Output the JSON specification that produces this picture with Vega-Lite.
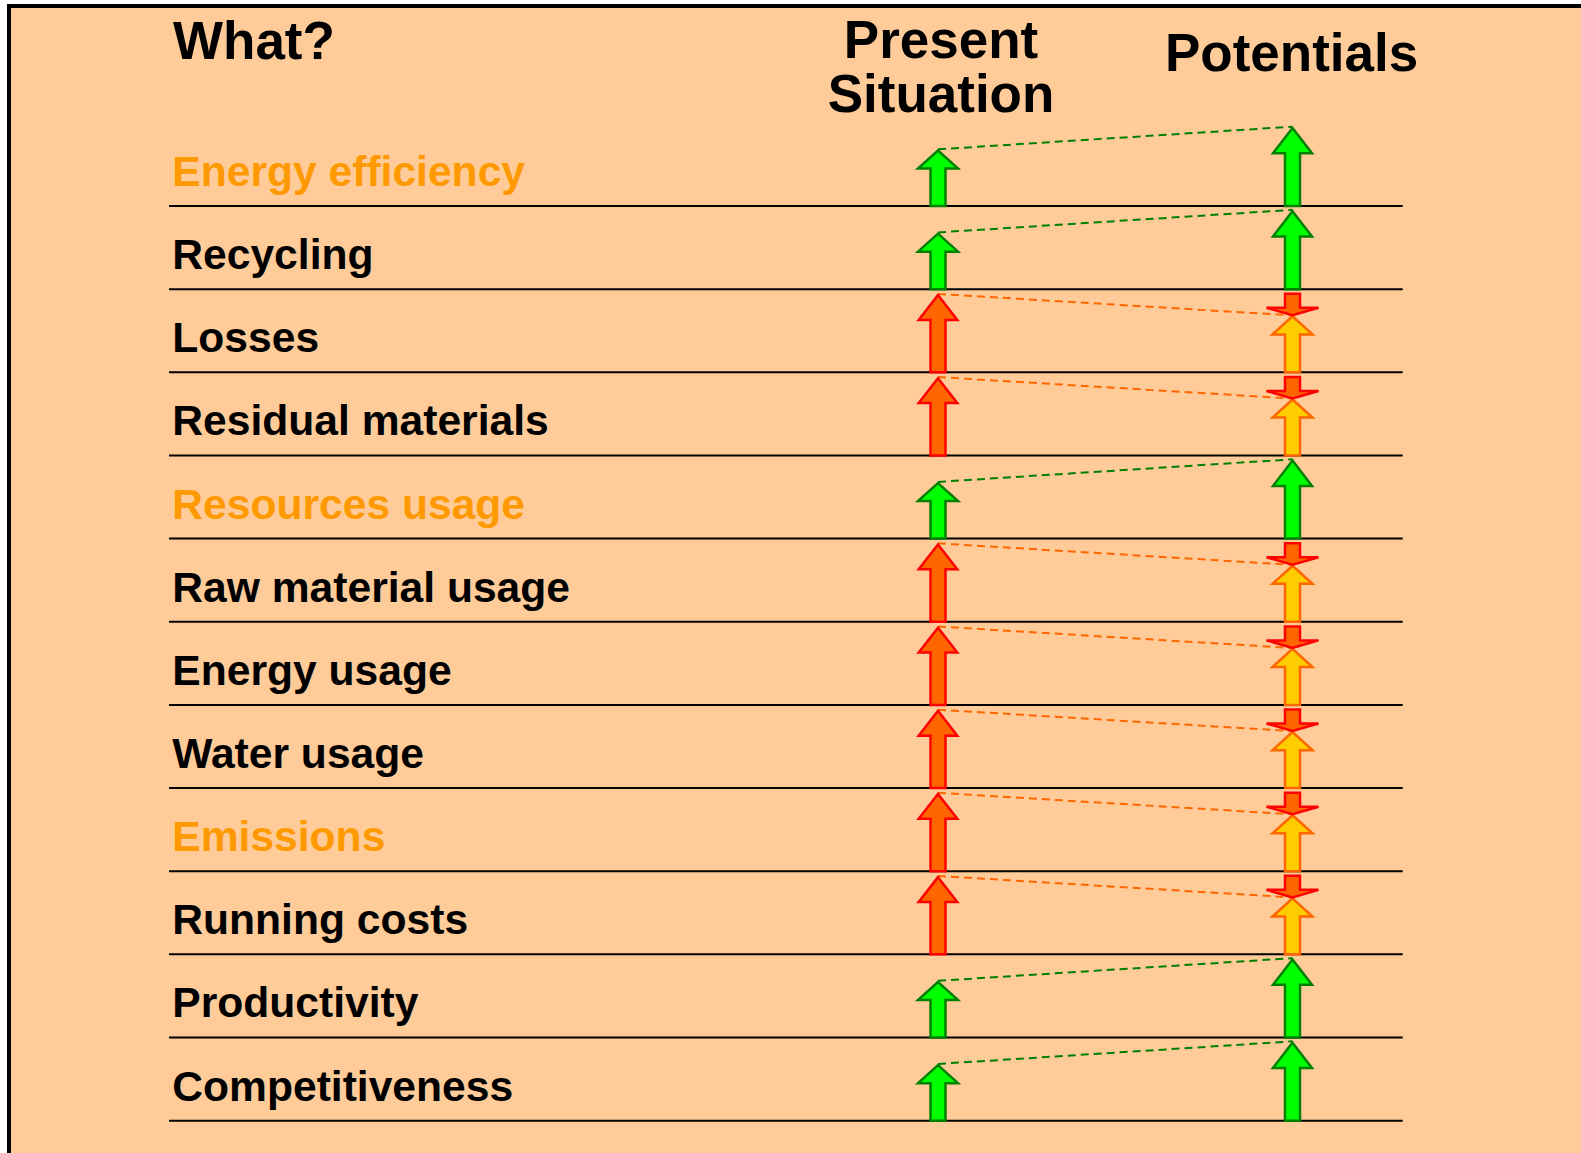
{
  "$schema": "https://vega.github.io/schema/vega-lite/v6.json",
  "width": 1592,
  "height": 1167,
  "autosize": {"type": "none"},
  "padding": {"left": 9, "top": 6, "right": -20, "bottom": -20},
  "background": "#ffffff",
  "config": {
    "view": {"fill": "#FFCC99", "stroke": "#000000", "strokeWidth": 4},
    "text": {"font": "Liberation Sans", "fontWeight": "bold"}
  },
  "data": {"values": [
    {"item": "Energy efficiency", "row": 0, "kind": "section", "present": "good", "potential": "good"},
    {"item": "Recycling", "row": 1, "kind": "item", "present": "good", "potential": "good"},
    {"item": "Losses", "row": 2, "kind": "item", "present": "bad", "potential": "bad"},
    {"item": "Residual materials", "row": 3, "kind": "item", "present": "bad", "potential": "bad"},
    {"item": "Resources usage", "row": 4, "kind": "section", "present": "good", "potential": "good"},
    {"item": "Raw material usage", "row": 5, "kind": "item", "present": "bad", "potential": "bad"},
    {"item": "Energy usage", "row": 6, "kind": "item", "present": "bad", "potential": "bad"},
    {"item": "Water usage", "row": 7, "kind": "item", "present": "bad", "potential": "bad"},
    {"item": "Emissions", "row": 8, "kind": "section", "present": "bad", "potential": "bad"},
    {"item": "Running costs", "row": 9, "kind": "item", "present": "bad", "potential": "bad"},
    {"item": "Productivity", "row": 10, "kind": "item", "present": "good", "potential": "good"},
    {"item": "Competitiveness", "row": 11, "kind": "item", "present": "good", "potential": "good"}
  ]},
  "layer": [
    {
      "mark": {"type": "rule", "color": "#000000", "strokeWidth": 2},
      "encoding": {
        "x": {"datum": -1.1693, "type": "quantitative", "axis": null, "scale": {"domain": [-1.62059, 2.87024], "nice": false, "zero": false}},
        "x2": {"datum": 2.3109},
        "y": {"field": "row", "type": "quantitative", "axis": null, "scale": {"domain": [-2.40529, 11.62959], "reverse": true, "nice": false, "zero": false}}
      }
    },
    {
      "transform": [{"filter": "datum.present == 'good'"}],
      "mark": {"type": "rule", "color": "#008000", "strokeWidth": 2, "strokeDash": [8, 5], "yOffset": -56.7, "y2Offset": -79.3},
      "encoding": {
        "x": {"datum": 1, "type": "quantitative", "axis": null},
        "x2": {"datum": 2},
        "y": {"field": "row", "type": "quantitative", "axis": null},
        "y2": {"field": "row"}
      }
    },
    {
      "transform": [{"filter": "datum.present == 'bad'"}],
      "mark": {"type": "rule", "color": "#FF6600", "strokeWidth": 2, "strokeDash": [8, 5], "yOffset": -78.4, "y2Offset": -56.9},
      "encoding": {
        "x": {"datum": 1, "type": "quantitative", "axis": null},
        "x2": {"datum": 2},
        "y": {"field": "row", "type": "quantitative", "axis": null},
        "y2": {"field": "row"}
      }
    },
    {
      "transform": [{"filter": "datum.present == 'good'"}],
      "mark": {"type": "point", "shape": "M0,-55.5L20,-37.5L7.5,-37.5L7.5,0L-7.5,0L-7.5,-37.5L-20,-37.5Z", "size": 4, "filled": true, "fill": "#00FF00", "stroke": "#008000", "strokeWidth": 2.5, "opacity": 1, "fillOpacity": 1, "strokeOpacity": 1},
      "encoding": {
        "x": {"datum": 1, "type": "quantitative", "axis": null},
        "y": {"field": "row", "type": "quantitative", "axis": null}
      }
    },
    {
      "transform": [{"filter": "datum.present == 'bad'"}],
      "mark": {"type": "point", "shape": "M0,-77.2L19.3,-52.4L7.5,-52.4L7.5,0L-7.5,0L-7.5,-52.4L-19.3,-52.4Z", "size": 4, "filled": true, "fill": "#FF6600", "stroke": "#FF0000", "strokeWidth": 2.5, "opacity": 1, "fillOpacity": 1, "strokeOpacity": 1},
      "encoding": {
        "x": {"datum": 1, "type": "quantitative", "axis": null},
        "y": {"field": "row", "type": "quantitative", "axis": null}
      }
    },
    {
      "transform": [{"filter": "datum.potential == 'good'"}],
      "mark": {"type": "point", "shape": "M0,-78L19.5,-52.7L7.5,-52.7L7.5,0L-7.5,0L-7.5,-52.7L-19.5,-52.7Z", "size": 4, "filled": true, "fill": "#00FF00", "stroke": "#008000", "strokeWidth": 2.5, "opacity": 1, "fillOpacity": 1, "strokeOpacity": 1},
      "encoding": {
        "x": {"datum": 2, "type": "quantitative", "axis": null},
        "y": {"field": "row", "type": "quantitative", "axis": null}
      }
    },
    {
      "transform": [{"filter": "datum.potential == 'bad'"}],
      "mark": {"type": "point", "shape": "M0,-56L20,-37.9L7.5,-37.9L7.5,0L-7.5,0L-7.5,-37.9L-20,-37.9Z", "size": 4, "filled": true, "fill": "#FFCC00", "stroke": "#FF6600", "strokeWidth": 2.5, "opacity": 1, "fillOpacity": 1, "strokeOpacity": 1},
      "encoding": {
        "x": {"datum": 2, "type": "quantitative", "axis": null},
        "y": {"field": "row", "type": "quantitative", "axis": null}
      }
    },
    {
      "transform": [{"filter": "datum.potential == 'bad'"}],
      "mark": {"type": "point", "shape": "M-7.5,-78.5L7.5,-78.5L7.5,-64.5L26,-64.5L0,-57L-26,-64.5L-7.5,-64.5Z", "size": 4, "filled": true, "fill": "#FF6600", "stroke": "#FF0000", "strokeWidth": 2.5, "opacity": 1, "fillOpacity": 1, "strokeOpacity": 1},
      "encoding": {
        "x": {"datum": 2, "type": "quantitative", "axis": null},
        "y": {"field": "row", "type": "quantitative", "axis": null}
      }
    },
    {
      "mark": {"type": "text", "align": "left", "baseline": "alphabetic", "dy": -20, "fontSize": 42.6, "font": "Liberation Sans", "fontWeight": "bold"},
      "encoding": {
        "x": {"datum": -1.16, "type": "quantitative", "axis": null},
        "y": {"field": "row", "type": "quantitative", "axis": null},
        "text": {"field": "item"},
        "color": {"field": "kind", "type": "nominal", "scale": {"domain": ["section", "item"], "range": ["#FF9900", "#000000"]}, "legend": null}
      }
    },
    {
      "data": {"values": [{"label": "What?"}]},
      "mark": {"type": "text", "align": "left", "baseline": "alphabetic", "fontSize": 53, "font": "Liberation Sans", "fontWeight": "bold", "color": "#000000"},
      "encoding": {
        "x": {"datum": -1.158, "type": "quantitative", "axis": null},
        "y": {"datum": -1.7643, "type": "quantitative", "axis": null},
        "text": {"field": "label"}
      }
    },
    {
      "data": {"values": [{"label": "Present\nSituation"}]},
      "mark": {"type": "text", "align": "center", "baseline": "alphabetic", "fontSize": 53, "lineHeight": 53.4, "lineBreak": "\n", "font": "Liberation Sans", "fontWeight": "bold", "color": "#000000"},
      "encoding": {
        "x": {"datum": 1.0085, "type": "quantitative", "axis": null},
        "y": {"datum": -1.7763, "type": "quantitative", "axis": null},
        "text": {"field": "label"}
      }
    },
    {
      "data": {"values": [{"label": "Potentials"}]},
      "mark": {"type": "text", "align": "center", "baseline": "alphabetic", "fontSize": 53, "font": "Liberation Sans", "fontWeight": "bold", "color": "#000000"},
      "encoding": {
        "x": {"datum": 1.9975, "type": "quantitative", "axis": null},
        "y": {"datum": -1.627, "type": "quantitative", "axis": null},
        "text": {"field": "label"}
      }
    }
  ]
}
